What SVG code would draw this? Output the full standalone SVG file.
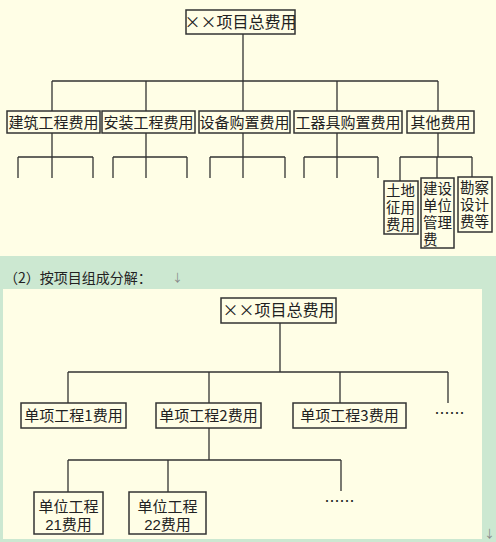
<svg xmlns="http://www.w3.org/2000/svg" width="496" height="542" viewBox="0 0 496 542">
<style>
.bg{fill:#FFFEE6}
.band{fill:#CCE8D1}
.box{fill:#FFFEE6;stroke:#333;stroke-width:1.5}
.ln{fill:none;stroke:#333;stroke-width:1.3}
text{font-family:"Noto Sans CJK SC","Noto Sans CJK JP",sans-serif;fill:#222}
.ml{font-family:"Liberation Sans","Noto Sans CJK SC","Noto Sans CJK JP",sans-serif}
.t16{font-size:16px;text-anchor:middle}
.t15{font-size:15px;text-anchor:middle}
.s15{font-size:14.5px}
.arr{font-size:11px;fill:#888}
</style>
<rect x="0" y="0" width="496" height="542" class="band"/>
<rect x="0" y="0" width="496" height="256" class="bg"/>
<rect x="3" y="289" width="479" height="250" class="bg"/>
<text x="4" y="283" style="font-size:14px">（2）按项目组成分解：</text>
<text x="172" y="282" class="arr">↓</text>
<text x="484" y="538" class="arr">↓</text>

<g id="connectors">
<path class="ln" d="M243 34V81M52 81H438M52 81V111M146 81V111M243 81V111M337 81V111M438 81V111"/>
<path class="ln" d="M52 133V157M18 157H93M18 157V178M52 157V178M93 157V178"/>
<path class="ln" d="M146 133V157M113 157H187M113 157V178M146 157V178M187 157V178"/>
<path class="ln" d="M243 133V157M210 157H285M210 157V178M243 157V178M285 157V178"/>
<path class="ln" d="M337 133V157M304 157H378M304 157V178M337 157V178M378 157V178"/>
<path class="ln" d="M438 133V157M400 157H472M400 157V181M437 157V178M472 157V177"/>
<path class="ln" d="M280 323V372M68 372H448M68 372V403M209 372V403M340 372V403M448 372V403"/>
<path class="ln" d="M209 428V460M68 460H341M68 460V492M168 460V492M341 460V491"/>
</g>

<g id="n-total1"><rect class="box" x="186" y="10" width="109" height="24"/><text class="t16" x="240.5" y="28">××项目总费用</text></g>
<g id="n-jz"><rect class="box" x="7" y="111" width="93" height="22"/><text class="t15" x="53.5" y="128">建筑工程费用</text></g>
<g id="n-az"><rect class="box" x="102" y="111" width="93" height="22"/><text class="t15" x="148.5" y="128">安装工程费用</text></g>
<g id="n-sb"><rect class="box" x="199" y="111" width="91" height="22"/><text class="t15" x="244.5" y="128">设备购置费用</text></g>
<g id="n-gq"><rect class="box" x="294" y="111" width="108" height="22"/><text class="t15" x="348" y="128">工器具购置费用</text></g>
<g id="n-qt"><rect class="box" x="407" y="111" width="67" height="22"/><text class="t15" x="440.5" y="128">其他费用</text></g>
<g id="n-td"><rect class="box" x="384" y="181" width="34" height="53"/><text class="s15 ml" x="386" y="196">土地<tspan x="386" dy="17">征用</tspan><tspan x="386" dy="17">费用</tspan></text></g>
<g id="n-js"><rect class="box" x="421" y="178" width="33" height="70"/><text class="s15 ml" x="423" y="194">建设<tspan x="423" dy="17">单位</tspan><tspan x="423" dy="17">管理</tspan><tspan x="423" dy="17">费</tspan></text></g>
<g id="n-kc"><rect class="box" x="458" y="177" width="34" height="55"/><text class="s15 ml" x="460" y="193">勘察<tspan x="460" dy="17">设计</tspan><tspan x="460" dy="17">费等</tspan></text></g>

<g id="n-total2"><rect class="box" x="221" y="298" width="115" height="25"/><text class="t16" x="278.5" y="316">××项目总费用</text></g>
<g id="n-dx1"><rect class="box" x="21" y="403" width="105" height="25"/><text class="t15" x="73.5" y="421">单项工程1费用</text></g>
<g id="n-dx2"><rect class="box" x="156" y="403" width="105" height="25"/><text class="t15" x="208.5" y="421">单项工程2费用</text></g>
<g id="n-dx3"><rect class="box" x="293" y="403" width="113" height="25"/><text class="t15" x="349.5" y="421">单项工程3费用</text></g>
<g id="n-more1"><text class="t15" x="449.5" y="419">……</text></g>
<g id="n-dw21"><rect class="box" x="34" y="492" width="69" height="42"/><text class="t15 ml" x="68.5" y="512">单位工程<tspan x="68.5" dy="18">21费用</tspan></text></g>
<g id="n-dw22"><rect class="box" x="129" y="492" width="77" height="42"/><text class="t15 ml" x="167.5" y="512">单位工程<tspan x="167.5" dy="18">22费用</tspan></text></g>
<g id="n-more2"><text class="t15" x="339.5" y="507">……</text></g>
</svg>
